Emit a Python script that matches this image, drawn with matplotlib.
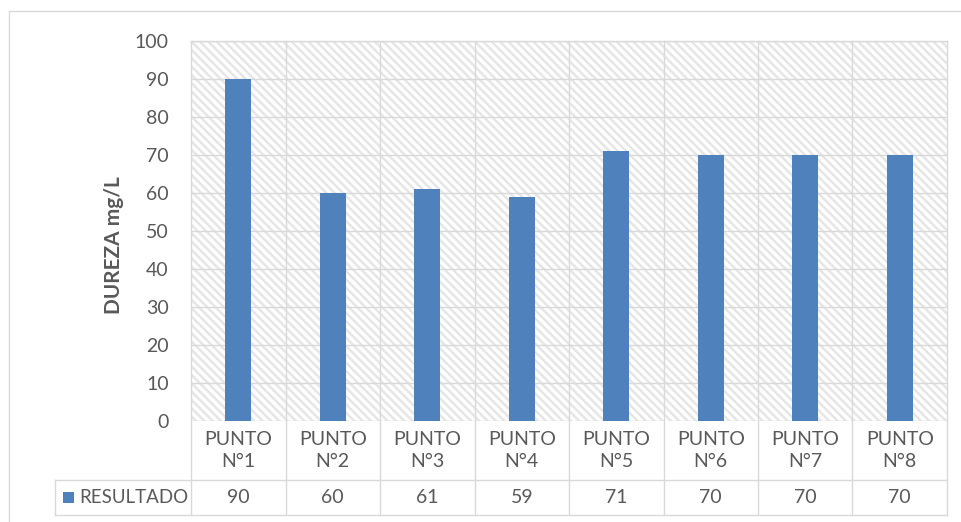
import matplotlib
matplotlib.use("Agg")
import matplotlib.pyplot as plt
from matplotlib.patches import Rectangle
from matplotlib.lines import Line2D
import matplotlib.transforms as mtransforms

categories = ["PUNTO\nN°1", "PUNTO\nN°2", "PUNTO\nN°3", "PUNTO\nN°4",
              "PUNTO\nN°5", "PUNTO\nN°6", "PUNTO\nN°7", "PUNTO\nN°8"]
values = [90, 60, 61, 59, 71, 70, 70, 70]
series_name = "RESULTADO"
y_ticks = [0, 10, 20, 30, 40, 50, 60, 70, 80, 90, 100]
y_label = "DUREZA mg/L"

BAR = "#4F81BD"
GRID = "#D9D9D9"
TXT = "#595959"
FONT = "Lato"

plt.rcParams['font.family'] = [FONT, 'DejaVu Sans']
plt.rcParams['hatch.linewidth'] = 1.8
plt.rcParams['hatch.color'] = "#E6E6E6"

W, H = 962, 522
fig = plt.figure(figsize=(W / 100, H / 100), dpi=100)

def fx(px):
    return px / W

def fy(py):
    return 1 - py / H

L, R, T, B = 191, 947, 41, 421
ax = fig.add_axes([fx(L), fy(B), fx(R) - fx(L), fy(T) - fy(B)])

n = len(categories)
ax.set_xlim(-0.5, n - 0.5)
ax.set_ylim(0, 100)

# hatched background
ax.add_patch(Rectangle((0, 0), 1, 1, transform=ax.transAxes, facecolor="white",
                       hatch="\\\\\\\\", edgecolor="#E6E6E6", linewidth=0, zorder=0))

# horizontal gridlines
for t in y_ticks:
    ax.axhline(t, color=GRID, linewidth=1.0, zorder=1)

ax.bar(range(n), values, width=0.275, color=BAR, zorder=3)

for s in ax.spines.values():
    s.set_visible(False)

ax.set_yticks(y_ticks)
ax.set_yticklabels([str(t) for t in y_ticks])
ax.tick_params(axis='y', length=0, pad=16, labelsize=14, labelcolor=TXT)
ax.set_xticks([])

# table geometry (axes fraction)
ah = B - T
r1 = -(480 - B) / ah
r2 = -(515 - B) / ah
leg_left = (55 - L) / (R - L)

trans = mtransforms.blended_transform_factory(ax.transData, ax.transAxes)

# vertical lines at category boundaries, through plot and table
for i in range(n + 1):
    ax.add_line(Line2D([i - 0.5, i - 0.5], [r2, 1], transform=trans, color=GRID,
                       linewidth=1.0, clip_on=False, zorder=1))

# horizontal table lines
for yy in [r1, r2]:
    ax.add_line(Line2D([leg_left, 1], [yy, yy], transform=ax.transAxes, color=GRID,
                       linewidth=1.0, clip_on=False))
ax.add_line(Line2D([leg_left, leg_left], [r2, r1], transform=ax.transAxes, color=GRID,
                   linewidth=1.0, clip_on=False))
ax.add_line(Line2D([0, 1], [1, 1], transform=ax.transAxes, color=GRID,
                   linewidth=1.0, clip_on=False))

# category labels and values
for i, (c, v) in enumerate(zip(categories, values)):
    ax.text(i, r1 / 2, c, transform=trans, ha='center', va='center',
            fontsize=14, color=TXT, linespacing=1.3)
    ax.text(i, (r1 + r2) / 2, str(v), transform=trans, ha='center', va='center',
            fontsize=14, color=TXT)

# legend key + series name
ax.add_patch(Rectangle((fx(63), fy(503)), fx(11), fy(492) - fy(503),
                       transform=fig.transFigure, facecolor=BAR, edgecolor='none',
                       clip_on=False))
fig.text(fx(79), fy(497.5), series_name, ha='left', va='center', fontsize=13.5, color=TXT)

# y label
fig.text(fx(114), fy(245), y_label, rotation=90, ha='center', va='center',
         fontsize=15, fontweight='bold', color=TXT)

# outer chart frame
fig.add_artist(Line2D([fx(9), 1], [fy(11), fy(11)], transform=fig.transFigure,
                      color=GRID, linewidth=1.0))
fig.add_artist(Line2D([fx(9), fx(9)], [fy(11), 0], transform=fig.transFigure,
                      color=GRID, linewidth=1.0))

fig.savefig("out.png", dpi=100)
